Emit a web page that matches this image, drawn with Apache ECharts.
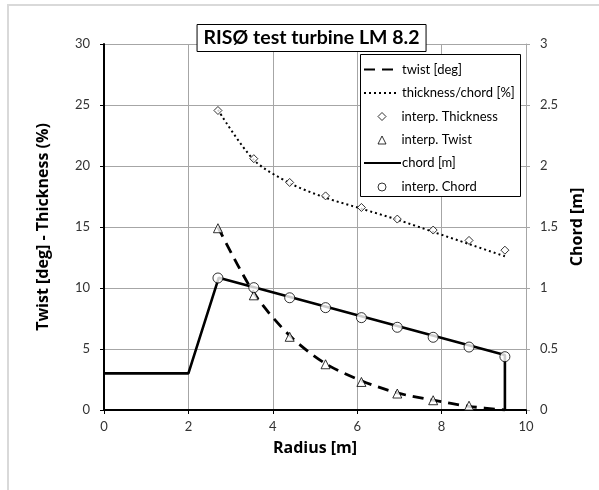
<!DOCTYPE html>
<html>
<head>
<meta charset="utf-8">
<script src="https://cdn.jsdelivr.net/npm/echarts@6/dist/echarts.min.js"></script>
<style>html,body{margin:0;padding:0;background:#fff}#c{width:599px;height:490px}</style>
</head>
<body>
<div id="c"></div>
<script>
// Radius positions of interpolated points [m]
var radius = [2.70, 3.55, 4.40, 5.25, 6.10, 6.95, 7.80, 8.65, 9.50];
// Interpolated values (markers)
var interpThickness = [24.55, 20.6, 18.65, 17.55, 16.6, 15.65, 14.75, 13.9, 13.1];
var interpTwist = [14.9, 9.4, 6.0, 3.75, 2.3, 1.35, 0.8, 0.35];
var interpChord = [1.082, 1.003, 0.92, 0.839, 0.757, 0.678, 0.596, 0.516, 0.437];
// Line series
var twistR = [2.70, 3.55, 4.40, 5.25, 6.10, 6.95, 7.80, 8.65, 9.50];
var twistDeg = [15.0, 9.6, 6.1, 3.8, 2.4, 1.4, 0.8, 0.3, 0.0];
var thickR = [2.70, 3.55, 4.40, 5.25, 6.10, 6.95, 7.80, 8.65, 9.50];
var thickPct = [24.6, 20.5, 18.6, 17.4, 16.5, 15.6, 14.6, 13.6, 12.6];
var chordR = [0, 2.0, 2.72, 9.50, 9.50];
var chordM = [0.30, 0.30, 1.085, 0.45, 0.0];
// Axis ticks
var xTicks = {min: 0, max: 10, interval: 2};
var yLeftTicks = {min: 0, max: 30, interval: 5};
var yRightTicks = {min: 0, max: 3, interval: 0.5};
var titleText = 'RISØ test turbine LM 8.2';
var legendNames = ['twist [deg]', 'thickness/chord [%]', 'interp. Thickness', 'interp. Twist', 'chord [m]', 'interp. Chord'];

function zip(a, b) { var o = []; for (var i = 0; i < b.length; i++) o.push([a[i], b[i]]); return o; }

var FONT = 'Lato';
var NAMEFONT = 'Open Sans';
// fit title inside its box
var ctx = document.createElement('canvas').getContext('2d');
var tSize = 21;
ctx.font = 'bold ' + tSize + 'px ' + FONT;
while (ctx.measureText(titleText).width > 217 && tSize > 12) { tSize -= 0.5; ctx.font = 'bold ' + tSize + 'px ' + FONT; }
var tw = ctx.measureText(titleText).width;
var tPadX = (229 - tw) / 2;

var rowTops = [62.5, 86, 109, 132.5, 156, 179.5];
var isLine = [true, true, false, false, true, false];
var legends = legendNames.map(function (n, i) {
  var l = {
    orient: 'vertical', top: rowTops[i], padding: 0, z: 20,
    itemHeight: 9,
    textStyle: {fontFamily: FONT, fontSize: 13, color: '#000', lineHeight: 14},
    selectedMode: false
  };
  if (isLine[i]) {
    l.left = 363; l.itemWidth = (i === 4 ? 37 : 33);
    l.data = [{name: n, itemStyle: {opacity: 0}}];
    if (i === 4) l.textStyle.padding = [0, 0, 0, -4];
  } else {
    l.left = 377.5; l.itemWidth = 8; l.itemHeight = 8;
    l.top = rowTops[i] + 0.5;
    l.data = [{name: n, itemStyle: {color: '#fff', borderColor: '#000', borderWidth: 1}}];
    l.textStyle.padding = [0, 0, 0, 10.5];
  }
  return l;
});

var chart = echarts.init(document.getElementById('c'), null, {renderer: 'canvas'});
chart.setOption({
  animation: false,
  backgroundColor: '#fff',
  textStyle: {fontFamily: FONT},
  graphic: [{
    type: 'rect', shape: {x: 8, y: 5, width: 640, height: 520},
    style: {fill: 'none', stroke: '#d9d9d9', lineWidth: 2}, silent: true, z: -10
  }, {
    type: 'rect', shape: {x: 360.5, y: 54.5, width: 160, height: 142},
    style: {fill: '#fff', stroke: '#000', lineWidth: 1}, silent: true, z: 15
  }],
  title: {
    text: titleText,
    left: 197, top: 24, z: 20,
    padding: [3, tPadX, 3, tPadX],
    borderColor: '#000', borderWidth: 1, backgroundColor: '#fff',
    textStyle: {fontFamily: FONT, fontWeight: 'bold', fontSize: tSize, color: '#000', lineHeight: 22}
  },
  legend: legends,
  grid: {left: 104, right: 73, top: 44, bottom: 80},
  xAxis: {
    type: 'value', min: xTicks.min, max: xTicks.max, interval: xTicks.interval,
    name: 'Radius [m]', nameLocation: 'middle', nameGap: 30,
    nameTextStyle: {fontFamily: NAMEFONT, fontWeight: 'bold', fontSize: 16, color: '#000'},
    axisLine: {onZero: false, lineStyle: {color: '#000', width: 2}},
    axisTick: {show: true, length: 4, lineStyle: {color: '#000'}},
    axisLabel: {margin: 10, fontSize: 13, color: '#333', fontFamily: FONT},
    splitLine: {show: true, lineStyle: {color: '#a6a6a6', width: 1}}
  },
  yAxis: [{
    type: 'value', position: 'left', min: yLeftTicks.min, max: yLeftTicks.max, interval: yLeftTicks.interval,
    name: 'Twist [deg] - Thickness (%)', nameLocation: 'middle', nameGap: 53,
    nameTextStyle: {fontFamily: NAMEFONT, fontWeight: 'bold', fontSize: 16, color: '#000'},
    axisLine: {show: true, onZero: false, lineStyle: {color: '#000', width: 2}},
    axisTick: {show: true, length: 4, lineStyle: {color: '#000'}},
    axisLabel: {margin: 14, fontSize: 13, color: '#333', fontFamily: FONT},
    splitLine: {show: true, lineStyle: {color: '#a6a6a6', width: 1}}
  }, {
    type: 'value', position: 'right', min: yRightTicks.min, max: yRightTicks.max, interval: yRightTicks.interval,
    name: 'Chord [m]', nameLocation: 'middle', nameGap: 39,
    nameTextStyle: {fontFamily: NAMEFONT, fontWeight: 'bold', fontSize: 16, color: '#000'},
    axisLine: {show: true, onZero: false, lineStyle: {color: '#a6a6a6', width: 1}},
    axisTick: {show: true, length: 4, lineStyle: {color: '#a6a6a6'}},
    axisLabel: {margin: 14, fontSize: 13, color: '#333', fontFamily: FONT},
    splitLine: {show: false}
  }],
  series: [{
    name: legendNames[0], type: 'line', yAxisIndex: 0, symbol: 'none', smooth: 0.3,
    data: zip(twistR, twistDeg),
    lineStyle: {color: '#000', width: 2.8, type: [11, 7]}, itemStyle: {color: '#000'}, z: 3
  }, {
    name: legendNames[1], type: 'line', yAxisIndex: 0, symbol: 'none', smooth: 0.3,
    data: zip(thickR, thickPct),
    lineStyle: {color: '#000', width: 2, type: [2, 3]}, itemStyle: {color: '#000'}, z: 3
  }, {
    name: legendNames[2], type: 'scatter', yAxisIndex: 0, symbol: 'diamond', symbolSize: 8,
    data: zip(radius, interpThickness),
    itemStyle: {color: '#fff', borderColor: '#000', borderWidth: 1}, z: 5
  }, {
    name: legendNames[3], type: 'scatter', yAxisIndex: 0, symbol: 'triangle', symbolSize: 9,
    data: zip(radius, interpTwist),
    itemStyle: {color: '#fff', borderColor: '#000', borderWidth: 1}, z: 5
  }, {
    name: legendNames[4], type: 'line', yAxisIndex: 1, symbol: 'none',
    data: zip(chordR, chordM),
    lineStyle: {color: '#000', width: 2.6}, itemStyle: {color: '#000'}, z: 3
  }, {
    name: legendNames[5], type: 'scatter', yAxisIndex: 1, symbol: 'circle', symbolSize: 10,
    data: zip(radius, interpChord),
    itemStyle: {color: '#fff', borderColor: '#000', borderWidth: 1}, z: 5
  }]
});
</script>
</body>
</html>
